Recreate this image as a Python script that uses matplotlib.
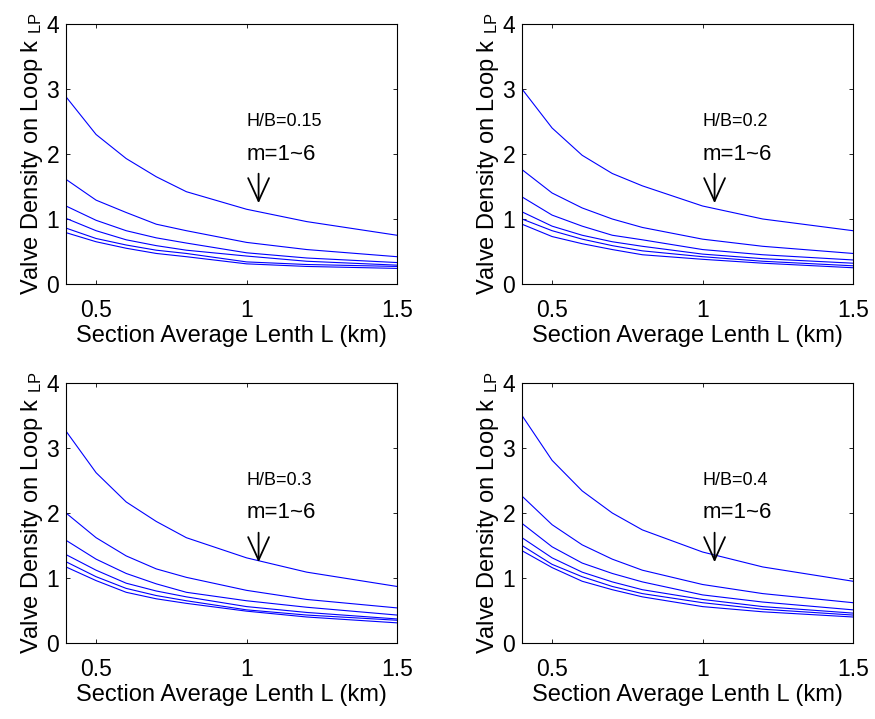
import matplotlib
matplotlib.use("Agg")
import matplotlib.pyplot as plt

plt.rcParams['font.family'] = ['Liberation Sans', 'DejaVu Sans']
plt.rcParams['mathtext.fontset'] = 'custom'
plt.rcParams['mathtext.rm'] = 'Liberation Sans'
plt.rcParams['mathtext.it'] = 'Liberation Sans'

L = [0.4, 0.5, 0.6, 0.7, 0.8, 1.0, 1.2, 1.5]

hb_labels = ["H/B=0.15", "H/B=0.2", "H/B=0.3", "H/B=0.4"]

k_hb015 = [
    [2.88, 2.30, 1.93, 1.65, 1.42, 1.15, 0.96, 0.75],
    [1.61, 1.29, 1.10, 0.92, 0.82, 0.64, 0.53, 0.42],
    [1.20, 0.98, 0.82, 0.71, 0.63, 0.48, 0.40, 0.33],
    [1.01, 0.82, 0.68, 0.59, 0.52, 0.43, 0.35, 0.29],
    [0.86, 0.70, 0.60, 0.52, 0.47, 0.34, 0.30, 0.27],
    [0.79, 0.65, 0.55, 0.47, 0.42, 0.31, 0.27, 0.24],
]
k_hb02 = [
    [3.00, 2.40, 1.98, 1.70, 1.51, 1.20, 1.00, 0.82],
    [1.76, 1.40, 1.17, 1.00, 0.87, 0.69, 0.58, 0.47],
    [1.34, 1.06, 0.89, 0.75, 0.68, 0.53, 0.45, 0.37],
    [1.11, 0.89, 0.75, 0.65, 0.58, 0.46, 0.39, 0.32],
    [1.00, 0.82, 0.69, 0.59, 0.51, 0.42, 0.35, 0.28],
    [0.92, 0.73, 0.62, 0.53, 0.45, 0.38, 0.32, 0.25],
]
k_hb03 = [
    [3.26, 2.62, 2.17, 1.87, 1.62, 1.31, 1.09, 0.87],
    [2.00, 1.62, 1.34, 1.14, 1.01, 0.81, 0.67, 0.54],
    [1.58, 1.29, 1.07, 0.91, 0.78, 0.65, 0.55, 0.43],
    [1.36, 1.12, 0.92, 0.80, 0.71, 0.56, 0.47, 0.37],
    [1.25, 1.02, 0.84, 0.73, 0.65, 0.51, 0.43, 0.35],
    [1.17, 0.96, 0.78, 0.68, 0.61, 0.49, 0.40, 0.31],
]
k_hb04 = [
    [3.50, 2.81, 2.34, 2.00, 1.74, 1.40, 1.17, 0.95],
    [2.26, 1.82, 1.51, 1.29, 1.12, 0.90, 0.76, 0.62],
    [1.84, 1.48, 1.23, 1.07, 0.94, 0.74, 0.63, 0.51],
    [1.62, 1.31, 1.09, 0.94, 0.82, 0.67, 0.56, 0.46],
    [1.50, 1.21, 1.02, 0.87, 0.76, 0.62, 0.52, 0.43],
    [1.42, 1.16, 0.95, 0.82, 0.71, 0.56, 0.48, 0.40],
]
all_k = [k_hb015, k_hb02, k_hb03, k_hb04]

W, H = 875, 719
fig = plt.figure(figsize=(W/100, H/100), dpi=100)

boxes = [(66, 24, 397, 284), (522, 24, 853, 284),
         (66, 383, 397, 643), (522, 383, 853, 643)]

for i, (x0, y0, x1, y1) in enumerate(boxes):
    ax = fig.add_axes([x0/W, 1-y1/H, (x1-x0)/W, (y1-y0)/H])
    for series in all_k[i]:
        ax.plot(L, series, color=(0, 0, 1), lw=0.8)
    ax.set_xlim(0.4, 1.5)
    ax.set_ylim(0, 4)
    ax.set_xticks([0.5, 1, 1.5])
    ax.set_xticklabels(["0.5", "1", "1.5"])
    ax.set_yticks([0, 1, 2, 3, 4])
    ax.tick_params(direction='in', top=True, right=True, labelsize=16.5, length=3, width=0.6)
    ax.tick_params(axis='x', pad=11)
    ax.tick_params(axis='y', pad=5)
    for s in ax.spines.values():
        s.set_linewidth(0.8)
    ax.set_xlabel("Section Average Lenth L (km)", fontsize=17, labelpad=2)
    ax.set_ylabel(r"Valve Density on Loop k $_{\mathrm{LP}}$", fontsize=17, labelpad=1)
    ax.text(1.0, 2.5, hb_labels[i], fontsize=13, ha='left', va='center')
    ax.text(1.0, 2.0, "m=1~6", fontsize=16, ha='left', va='center')
    ax.annotate("", xy=(1.04, 1.2), xytext=(1.04, 1.74),
                arrowprops=dict(arrowstyle='->,head_length=0.55,head_width=0.25',
                                lw=1.3, color='black', mutation_scale=30))

fig.savefig("out.png", dpi=100)
